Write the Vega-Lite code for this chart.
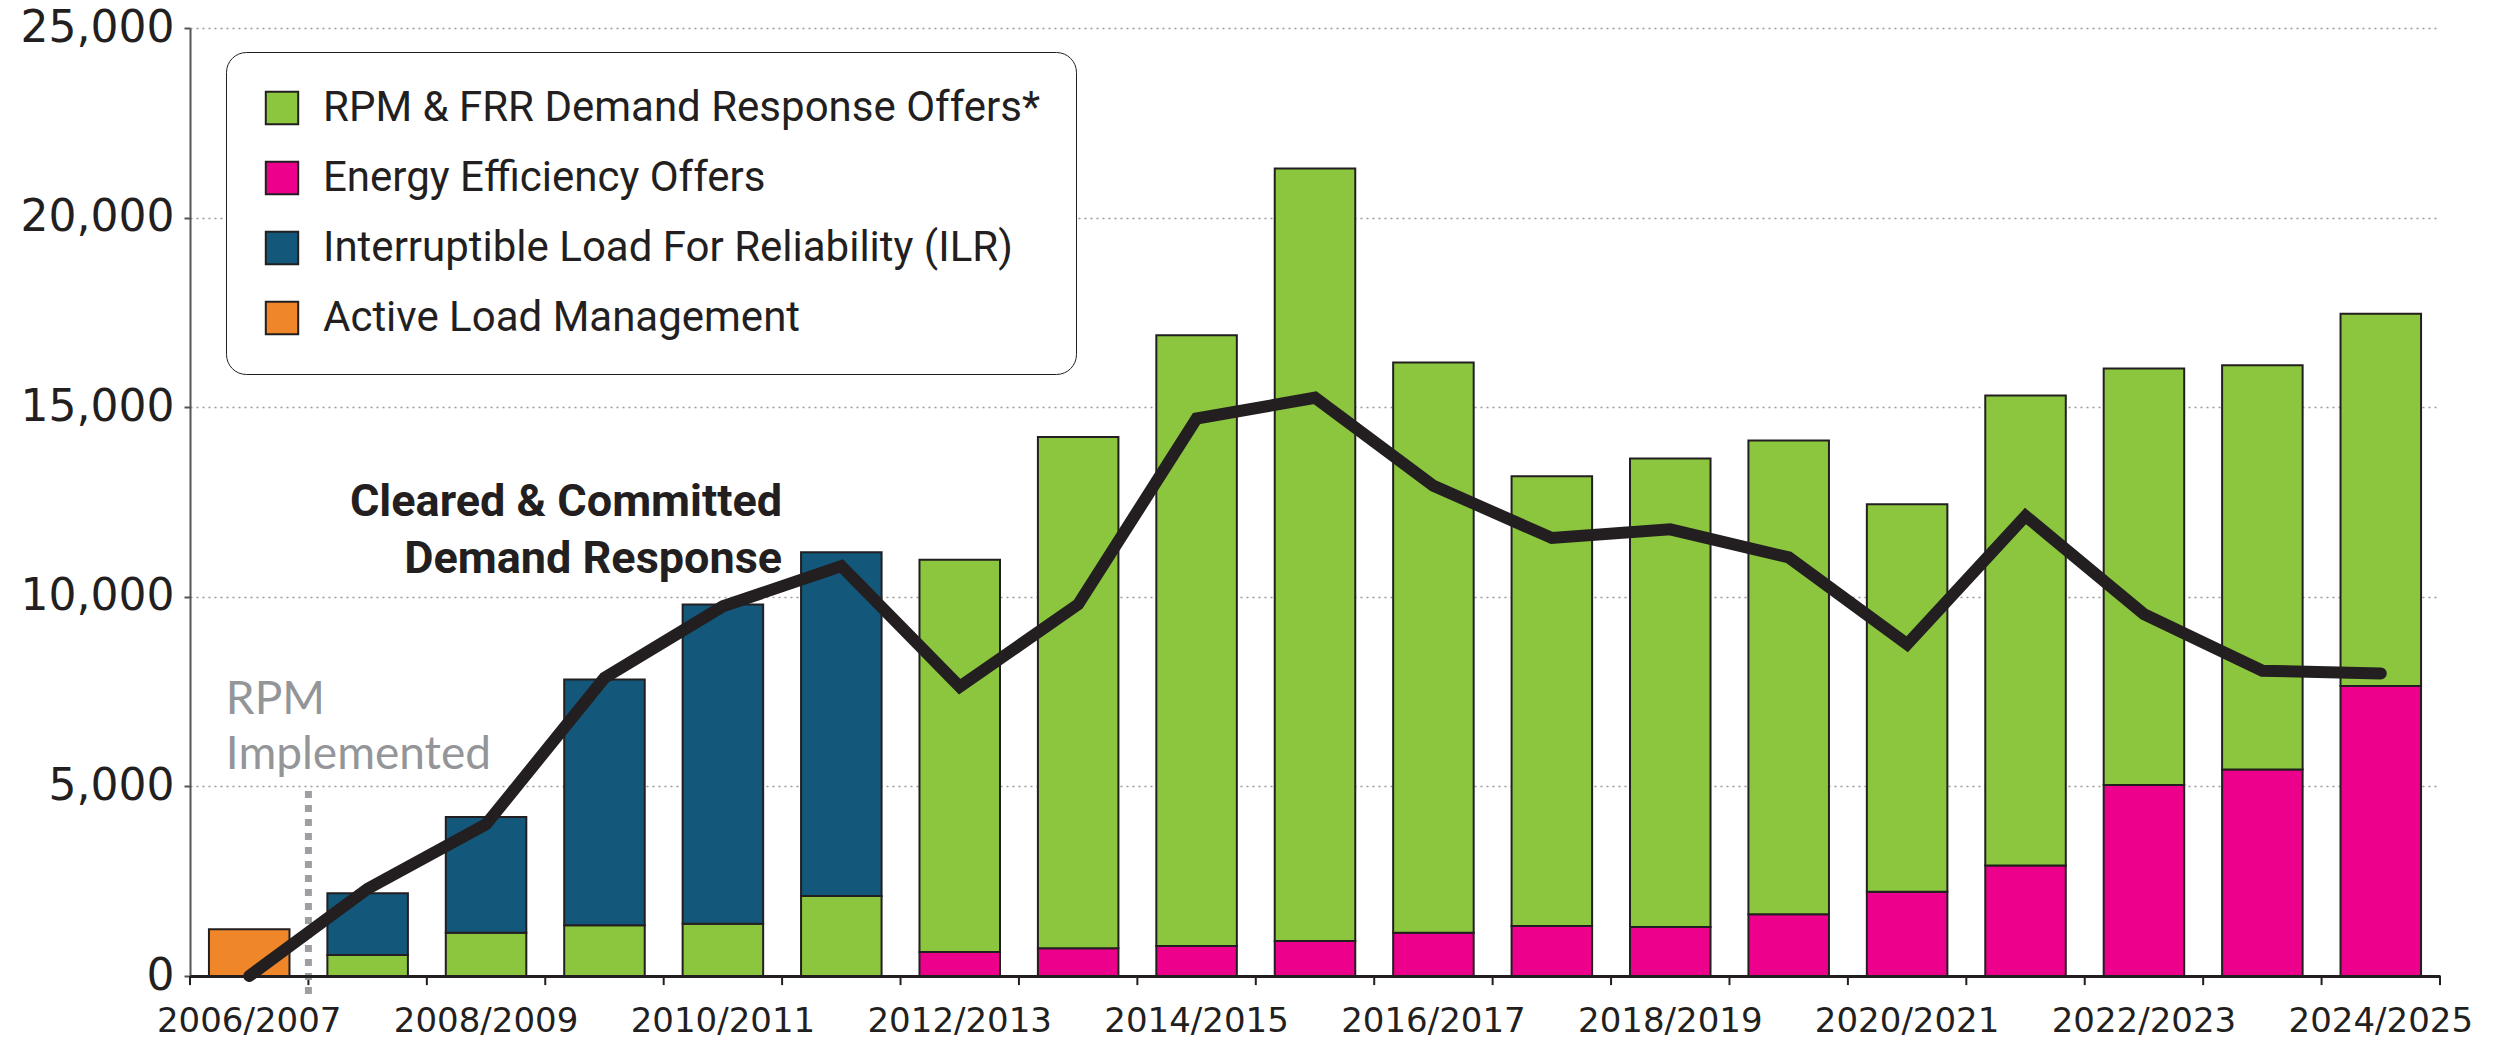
{
  "$schema": "https://vega.github.io/schema/vega-lite/v6.json",
  "width": 2250,
  "height": 948,
  "padding": {"left": 20, "top": 6, "right": 10, "bottom": 0},
  "background": "white",
  "datasets": {
    "bars": [
      {"season": "2006/2007", "type": "Active Load Management", "rank": 4, "mw": 1230},
      {"season": "2007/2008", "type": "RPM & FRR Demand Response Offers*", "rank": 2, "mw": 553},
      {"season": "2007/2008", "type": "Interruptible Load For Reliability (ILR)", "rank": 3, "mw": 1627},
      {"season": "2008/2009", "type": "RPM & FRR Demand Response Offers*", "rank": 2, "mw": 1142},
      {"season": "2008/2009", "type": "Interruptible Load For Reliability (ILR)", "rank": 3, "mw": 3048},
      {"season": "2009/2010", "type": "RPM & FRR Demand Response Offers*", "rank": 2, "mw": 1336},
      {"season": "2009/2010", "type": "Interruptible Load For Reliability (ILR)", "rank": 3, "mw": 6484},
      {"season": "2010/2011", "type": "RPM & FRR Demand Response Offers*", "rank": 2, "mw": 1379},
      {"season": "2010/2011", "type": "Interruptible Load For Reliability (ILR)", "rank": 3, "mw": 8418},
      {"season": "2011/2012", "type": "RPM & FRR Demand Response Offers*", "rank": 2, "mw": 2108},
      {"season": "2011/2012", "type": "Interruptible Load For Reliability (ILR)", "rank": 3, "mw": 9067},
      {"season": "2012/2013", "type": "Energy Efficiency Offers", "rank": 1, "mw": 634},
      {"season": "2012/2013", "type": "RPM & FRR Demand Response Offers*", "rank": 2, "mw": 10346},
      {"season": "2013/2014", "type": "Energy Efficiency Offers", "rank": 1, "mw": 729},
      {"season": "2013/2014", "type": "RPM & FRR Demand Response Offers*", "rank": 2, "mw": 13483},
      {"season": "2014/2015", "type": "Energy Efficiency Offers", "rank": 1, "mw": 791},
      {"season": "2014/2015", "type": "RPM & FRR Demand Response Offers*", "rank": 2, "mw": 16108},
      {"season": "2015/2016", "type": "Energy Efficiency Offers", "rank": 1, "mw": 923},
      {"season": "2015/2016", "type": "RPM & FRR Demand Response Offers*", "rank": 2, "mw": 20370},
      {"season": "2016/2017", "type": "Energy Efficiency Offers", "rank": 1, "mw": 1142},
      {"season": "2016/2017", "type": "RPM & FRR Demand Response Offers*", "rank": 2, "mw": 15040},
      {"season": "2017/2018", "type": "Energy Efficiency Offers", "rank": 1, "mw": 1318},
      {"season": "2017/2018", "type": "RPM & FRR Demand Response Offers*", "rank": 2, "mw": 11864},
      {"season": "2018/2019", "type": "Energy Efficiency Offers", "rank": 1, "mw": 1292},
      {"season": "2018/2019", "type": "RPM & FRR Demand Response Offers*", "rank": 2, "mw": 12358},
      {"season": "2019/2020", "type": "Energy Efficiency Offers", "rank": 1, "mw": 1626},
      {"season": "2019/2020", "type": "RPM & FRR Demand Response Offers*", "rank": 2, "mw": 12497},
      {"season": "2020/2021", "type": "Energy Efficiency Offers", "rank": 1, "mw": 2223},
      {"season": "2020/2021", "type": "RPM & FRR Demand Response Offers*", "rank": 2, "mw": 10216},
      {"season": "2021/2022", "type": "Energy Efficiency Offers", "rank": 1, "mw": 2917},
      {"season": "2021/2022", "type": "RPM & FRR Demand Response Offers*", "rank": 2, "mw": 12390},
      {"season": "2022/2023", "type": "Energy Efficiency Offers", "rank": 1, "mw": 5035},
      {"season": "2022/2023", "type": "RPM & FRR Demand Response Offers*", "rank": 2, "mw": 10983},
      {"season": "2023/2024", "type": "Energy Efficiency Offers", "rank": 1, "mw": 5448},
      {"season": "2023/2024", "type": "RPM & FRR Demand Response Offers*", "rank": 2, "mw": 10657},
      {"season": "2024/2025", "type": "Energy Efficiency Offers", "rank": 1, "mw": 7650},
      {"season": "2024/2025", "type": "RPM & FRR Demand Response Offers*", "rank": 2, "mw": 9815}
    ],
    "cleared": [
      {"season": "2006/2007", "mw": 0},
      {"season": "2007/2008", "mw": 2300},
      {"season": "2008/2009", "mw": 4000},
      {"season": "2009/2010", "mw": 7860},
      {"season": "2010/2011", "mw": 9750},
      {"season": "2011/2012", "mw": 10810},
      {"season": "2012/2013", "mw": 7630},
      {"season": "2013/2014", "mw": 9800},
      {"season": "2014/2015", "mw": 14700},
      {"season": "2015/2016", "mw": 15250},
      {"season": "2016/2017", "mw": 12930},
      {"season": "2017/2018", "mw": 11550},
      {"season": "2018/2019", "mw": 11780},
      {"season": "2019/2020", "mw": 11040},
      {"season": "2020/2021", "mw": 8750},
      {"season": "2021/2022", "mw": 12130},
      {"season": "2022/2023", "mw": 9540},
      {"season": "2023/2024", "mw": 8050},
      {"season": "2024/2025", "mw": 7980}
    ],
    "rpm": [{"season": "2007/2008"}],
    "lastSeason": [{"season": "2024/2025"}],
    "rpmText": [{"season": "2006/2007"}],
    "drText": [{"season": "2011/2012"}]
  },
  "config": {
    "view": {"stroke": null}
  },
  "layer": [
    {
      "data": {"name": "bars"},
      "mark": {"type": "bar", "stroke": "#231f20", "strokeWidth": 2},
      "encoding": {
        "x": {
          "field": "season",
          "type": "nominal",
          "sort": null,
          "scale": {"paddingInner": 0.32, "paddingOuter": 0.16},
          "axis": {
            "title": null,
            "labelAngle": 0,
            "values": ["2006/2007", "2008/2009", "2010/2011", "2012/2013", "2014/2015", "2016/2017", "2018/2019", "2020/2021", "2022/2023", "2024/2025"],
            "labelFont": "DejaVu Sans",
            "labelFontSize": 34,
            "labelColor": "#231f20",
            "labelPadding": 28,
            "labelLimit": 500,
            "labelOverlap": false,
            "ticks": false,
            "domainColor": "#231f20",
            "domainWidth": 3,
            "zindex": 1
          }
        },
        "y": {
          "field": "mw",
          "type": "quantitative",
          "stack": "zero",
          "scale": {"domain": [0, 25000], "nice": false},
          "axis": {
            "title": null,
            "values": [0, 5000, 10000, 15000, 20000, 25000],
            "format": ",.0f",
            "labelFont": "DejaVu Sans",
            "labelFontSize": 44,
            "labelColor": "#231f20",
            "labelPadding": 10,
            "tickSize": 6,
            "tickWidth": 2,
            "tickColor": "#555555",
            "domainColor": "#555555",
            "domainWidth": 2,
            "grid": true,
            "gridColor": "#9a9a9a",
            "gridWidth": 1.5,
            "gridDash": [2, 4]
          }
        },
        "color": {
          "field": "type",
          "type": "nominal",
          "scale": {
            "domain": ["RPM & FRR Demand Response Offers*", "Energy Efficiency Offers", "Interruptible Load For Reliability (ILR)", "Active Load Management"],
            "range": ["#8cc63f", "#ec008c", "#13587b", "#f0862a"]
          },
          "legend": {
            "orient": "none",
            "legendX": 36,
            "legendY": 24,
            "title": null,
            "fillColor": "white",
            "strokeColor": "#231f20",
            "cornerRadius": 20,
            "padding": 35,
            "symbolType": "square",
            "symbolSize": 1050,
            "symbolStrokeColor": "#231f20",
            "symbolStrokeWidth": 2,
            "labelFont": "Roboto",
            "labelFontSize": 42,
            "labelColor": "#231f20",
            "labelOffset": 20,
            "labelLimit": 2000,
            "rowPadding": 28
          }
        },
        "order": {"field": "rank", "type": "quantitative"}
      }
    },
    {
      "data": {"name": "cleared"},
      "mark": {"type": "rule", "color": "#231f20", "strokeWidth": 2, "clip": false},
      "encoding": {
        "x": {"field": "season", "type": "nominal", "sort": null, "bandPosition": -0.2353},
        "y": {"datum": 0},
        "y2": {"datum": -240}
      }
    },
    {
      "data": {"name": "lastSeason"},
      "mark": {"type": "rule", "color": "#231f20", "strokeWidth": 2, "clip": false},
      "encoding": {
        "x": {"field": "season", "type": "nominal", "sort": null, "bandPosition": 1.2353},
        "y": {"datum": 0},
        "y2": {"datum": -240}
      }
    },
    {
      "data": {"name": "rpm"},
      "mark": {"type": "rule", "color": "#9d9fa2", "strokeWidth": 7, "strokeDash": [7, 7], "clip": false},
      "encoding": {
        "x": {"field": "season", "type": "nominal", "sort": null, "bandPosition": -0.2353},
        "y": {"datum": 4880},
        "y2": {"datum": -660}
      }
    },
    {
      "data": {"name": "cleared"},
      "mark": {"type": "line", "color": "#231f20", "strokeWidth": 12, "strokeCap": "round"},
      "encoding": {
        "x": {"field": "season", "type": "nominal", "sort": null},
        "y": {"field": "mw", "type": "quantitative"}
      }
    },
    {
      "data": {"name": "drText"},
      "mark": {"type": "text", "align": "right", "baseline": "alphabetic", "font": "Roboto", "fontWeight": "bold", "fontSize": 45, "color": "#231f20", "lineHeight": 57},
      "encoding": {
        "x": {"field": "season", "type": "nominal", "sort": null, "bandPosition": -0.2353},
        "y": {"datum": 12124},
        "text": {"value": ["Cleared & Committed", "Demand Response"]}
      }
    },
    {
      "data": {"name": "rpmText"},
      "mark": {"type": "text", "align": "left", "baseline": "alphabetic", "font": "Lato", "fontSize": 46, "color": "#939598", "lineHeight": 55},
      "encoding": {
        "x": {"field": "season", "type": "nominal", "sort": null, "bandPosition": 0.21},
        "y": {"datum": 6906},
        "text": {"value": ["RPM", "Implemented"]}
      }
    }
  ]
}
